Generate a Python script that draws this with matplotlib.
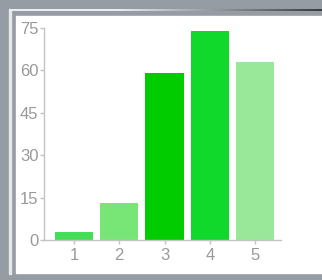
import numpy as np
import matplotlib
matplotlib.use('Agg')
import matplotlib.pyplot as plt
from matplotlib.patches import Rectangle

categorias = ['1', '2', '3', '4', '5']
valores = [3, 13, 59, 74, 63]
cores = ['#44dd55', '#77e677', '#00cc00', '#11d92b', '#99e899']
yticks = [0, 15, 30, 45, 60, 75]

plt.rcParams['font.family'] = ['Liberation Sans', 'DejaVu Sans']

W, H = 322, 280
fig = plt.figure(figsize=(W / 100, H / 100), dpi=100, facecolor='#959ca3')

# moldura: linha clara, faixa cinza e painel branco
fig.patches.append(Rectangle((9 / W, 1 - 274 / H), 2 / W, 265 / H,
                             transform=fig.transFigure, color='#e6e8ea', zorder=-2))
fig.patches.append(Rectangle((16 / W, 1 - 273 / H), 1, 257 / H,
                             transform=fig.transFigure, color='white', zorder=-2))

# linha do topo com degradê
ax_g = fig.add_axes([9 / W, 1 - 11 / H, 1 - 9 / W, 2 / H])
grad = np.linspace(0, 1, 256)
claro = np.array([0.92, 0.93, 0.94])
escuro = np.array([0.22, 0.23, 0.25])
t = np.clip((grad - 0.35) / 0.65, 0, 1)[:, None]
img = (claro * (1 - t) + escuro * t)[None, :, :]
ax_g.imshow(img, aspect='auto', extent=(0, 1, 0, 1))
ax_g.axis('off')

ax = fig.add_axes([44 / W, 1 - 240 / H, (281 - 44) / W, (240 - 28) / H])
ax.set_zorder(2)
x = np.arange(1, len(valores) + 1)
ax.bar(x, valores, width=0.85, color=cores, edgecolor='none')
ax.set_xlim(0.34, 5.57)
ax.set_ylim(0, 75)
ax.set_xticks(x)
ax.set_xticklabels(categorias)
ax.set_yticks(yticks)
ax.set_facecolor('none')
for lado in ['top', 'right']:
    ax.spines[lado].set_visible(False)
for lado in ['left', 'bottom']:
    ax.spines[lado].set_color('#c4c4c4')
    ax.spines[lado].set_linewidth(1)
ax.tick_params(colors='#c4c4c4', labelcolor='#999999', labelsize=12,
               length=3, width=1)
ax.tick_params(axis='x', pad=3)
ax.tick_params(axis='y', pad=1)

fig.savefig('out.png', dpi=100, facecolor=fig.get_facecolor())
